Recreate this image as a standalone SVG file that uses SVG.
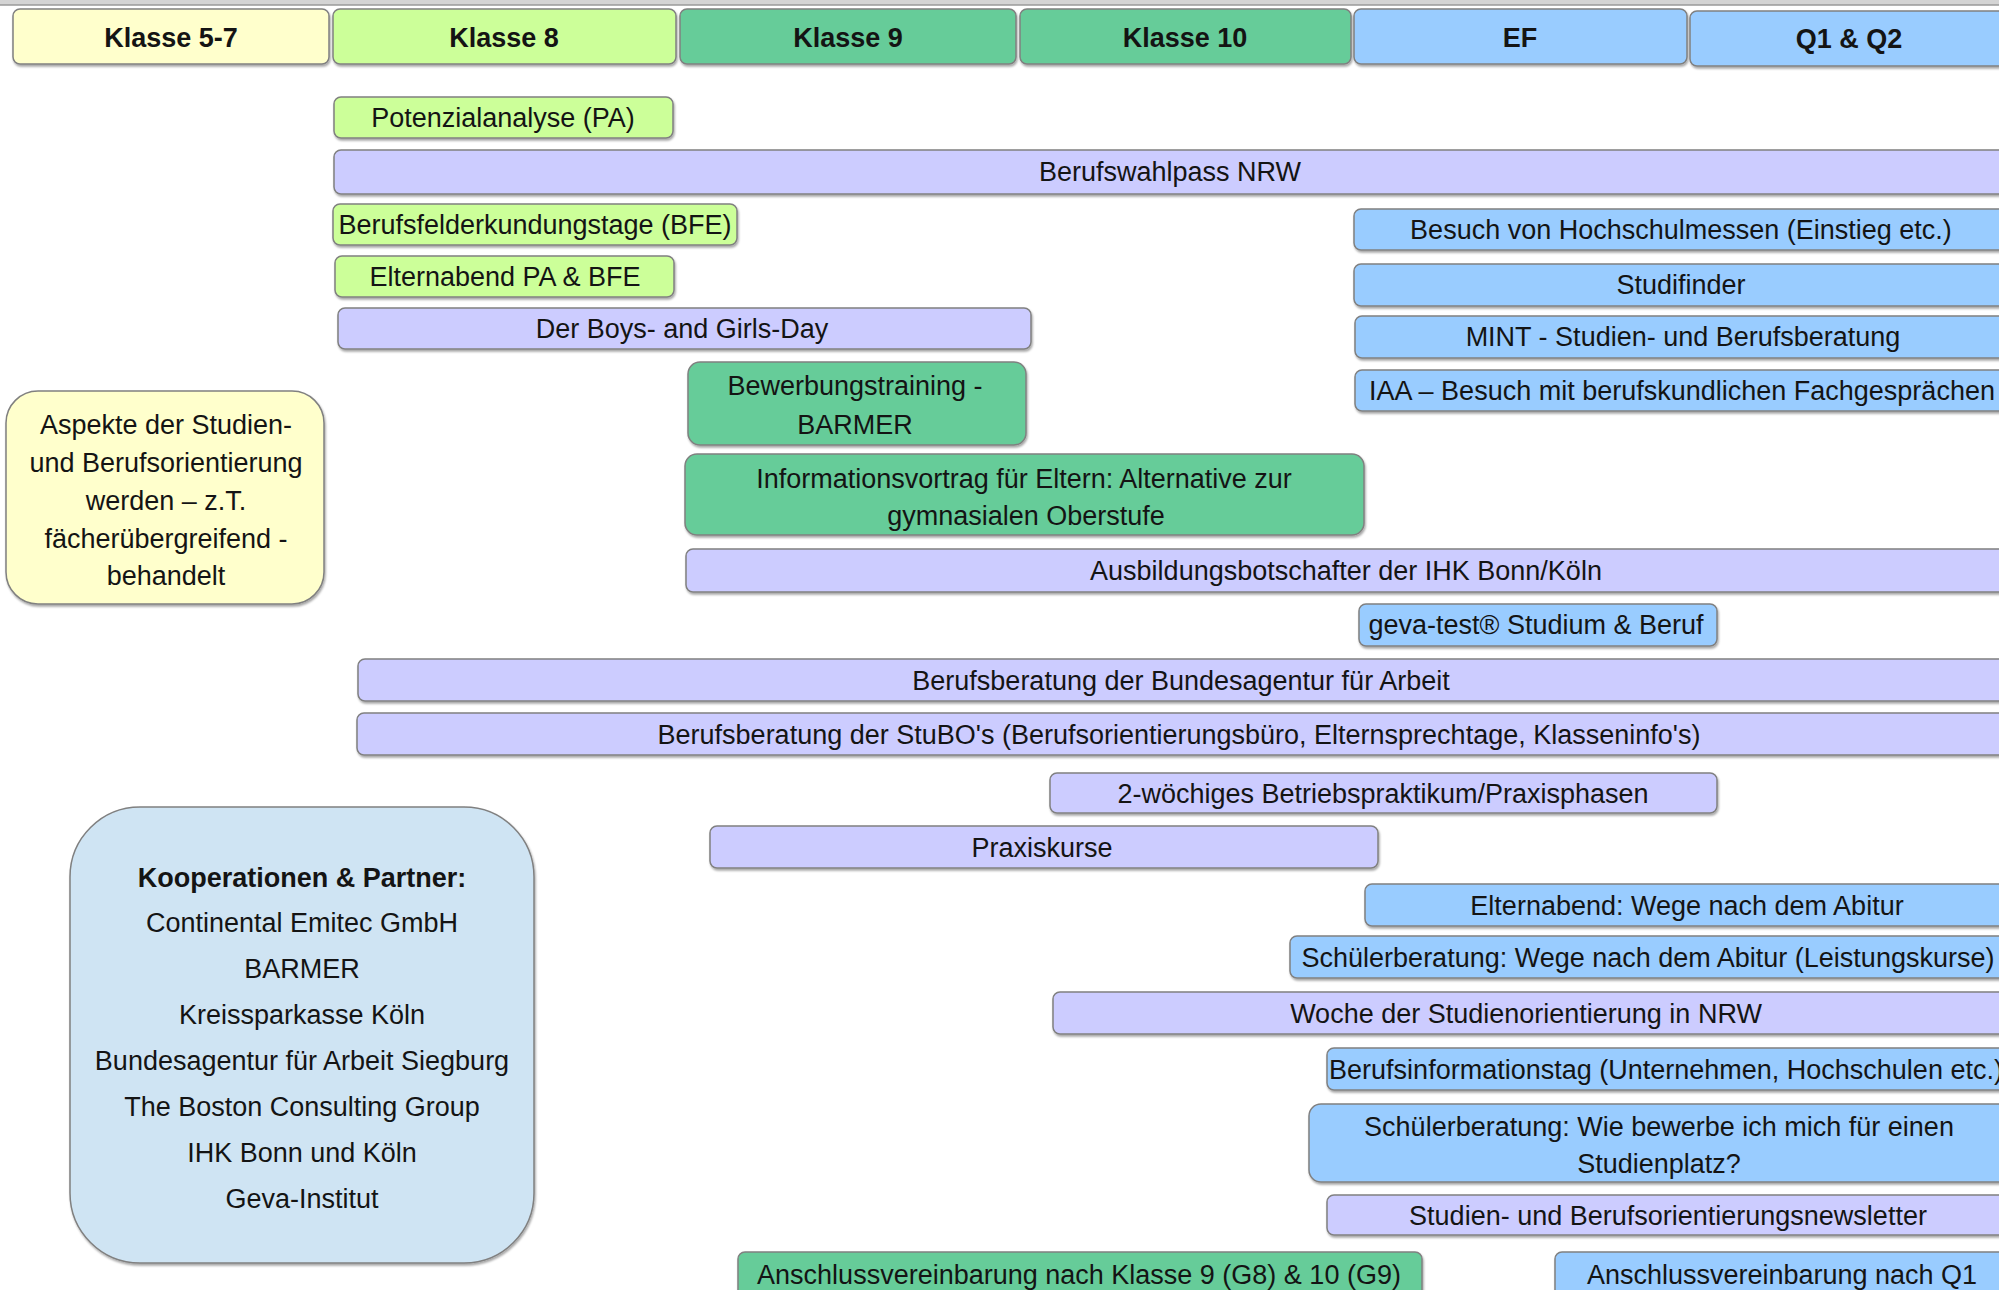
<svg xmlns="http://www.w3.org/2000/svg" width="1999" height="1290" viewBox="0 0 1999 1290">
<defs>
<filter id="sh" x="-5%" y="-20%" width="110%" height="150%">
<feDropShadow dx="1" dy="2" stdDeviation="1" flood-color="#000" flood-opacity="0.35"/>
</filter>
<style>
.b{stroke:#808080;stroke-width:1.5;filter:url(#sh)}
.y{fill:#FFFFCC}.lg{fill:#CCFF99}.g{fill:#66CC99}.bl{fill:#99CCFF}.v{fill:#CCCCFF}.p{fill:#CFE4F3}
text{font-family:"Liberation Sans",Arial,sans-serif;font-size:27px;fill:#141414;text-anchor:middle}
.h{font-weight:bold}
</style>
</defs>
<rect width="1999" height="1290" fill="#fff"/>
<rect x="-5" y="-10" width="2010" height="15" fill="#d4d4d4" stroke="#9a9a9a" stroke-width="1.5"/>

<g id="header">
<g id="h-k57"><rect class="b y" x="13" y="9" width="316" height="55" rx="7"/><text class="h" x="171" y="47">Klasse 5-7</text></g>
<g id="h-k8"><rect class="b lg" x="333" y="9" width="343" height="55" rx="7"/><text class="h" x="504" y="47">Klasse 8</text></g>
<g id="h-k9"><rect class="b g" x="680" y="9" width="336" height="55" rx="7"/><text class="h" x="848" y="47">Klasse 9</text></g>
<g id="h-k10"><rect class="b g" x="1020" y="9" width="331" height="55" rx="7"/><text class="h" x="1185" y="47">Klasse 10</text></g>
<g id="h-ef"><rect class="b bl" x="1354" y="9" width="333" height="55" rx="7"/><text class="h" x="1520" y="47">EF</text></g>
<g id="h-q"><rect class="b bl" x="1690" y="11" width="330" height="55" rx="7"/><text class="h" x="1849" y="48">Q1 &amp; Q2</text></g>
</g>

<g id="n-pa"><rect class="b lg" x="334" y="97" width="339" height="41" rx="7"/><text x="503" y="127">Potenzialanalyse (PA)</text></g>
<g id="n-bwp"><rect class="b v" x="334" y="150" width="1680" height="44" rx="7"/><text x="1170" y="181">Berufswahlpass NRW</text></g>
<g id="n-bfe"><rect class="b lg" x="333" y="204" width="404" height="41" rx="7"/><text x="535" y="234">Berufsfelderkundungstage (BFE)</text></g>
<g id="n-epa"><rect class="b lg" x="335" y="256" width="339" height="41" rx="7"/><text x="505" y="286">Elternabend PA &amp; BFE</text></g>
<g id="n-boys"><rect class="b v" x="338" y="308" width="693" height="41" rx="7"/><text x="682" y="338">Der Boys- and Girls-Day</text></g>
<g id="n-hsm"><rect class="b bl" x="1354" y="209" width="660" height="41" rx="7"/><text x="1681" y="239">Besuch von Hochschulmessen (Einstieg etc.)</text></g>
<g id="n-stf"><rect class="b bl" x="1354" y="264" width="660" height="42" rx="7"/><text x="1681" y="294">Studifinder</text></g>
<g id="n-mint"><rect class="b bl" x="1355" y="316" width="660" height="42" rx="7"/><text x="1683" y="346">MINT - Studien- und Berufsberatung</text></g>
<g id="n-iaa"><rect class="b bl" x="1355" y="370" width="660" height="41" rx="7"/><text x="1682" y="400">IAA – Besuch mit berufskundlichen Fachgesprächen</text></g>
<g id="n-bewt"><rect class="b g" x="688" y="362" width="338" height="83" rx="12"/><text x="855" y="395">Bewerbungstraining -</text><text x="855" y="434">BARMER</text></g>
<g id="n-info"><rect class="b g" x="685" y="454" width="679" height="81" rx="12"/><text x="1024" y="488">Informationsvortrag für Eltern: Alternative zur</text><text x="1026" y="525">gymnasialen Oberstufe</text></g>
<g id="n-ihk"><rect class="b v" x="686" y="549" width="1330" height="43" rx="7"/><text x="1346" y="580">Ausbildungsbotschafter der IHK Bonn/Köln</text></g>
<g id="n-geva"><rect class="b bl" x="1359" y="604" width="358" height="42" rx="7"/><text x="1536" y="634">geva-test® Studium &amp; Beruf</text></g>
<g id="n-ba"><rect class="b v" x="358" y="659" width="1660" height="42" rx="7"/><text x="1181" y="690">Berufsberatung der Bundesagentur für Arbeit</text></g>
<g id="n-stubo"><rect class="b v" x="357" y="713" width="1660" height="42" rx="7"/><text x="1179" y="744">Berufsberatung der StuBO's (Berufsorientierungsbüro, Elternsprechtage, Klasseninfo's)</text></g>
<g id="n-prak"><rect class="b v" x="1050" y="773" width="667" height="40" rx="7"/><text x="1383" y="803">2-wöchiges Betriebspraktikum/Praxisphasen</text></g>
<g id="n-pk"><rect class="b v" x="710" y="826" width="668" height="42" rx="7"/><text x="1042" y="857">Praxiskurse</text></g>
<g id="n-eabi"><rect class="b bl" x="1365" y="884" width="650" height="42" rx="7"/><text x="1687" y="915">Elternabend: Wege nach dem Abitur</text></g>
<g id="n-slk"><rect class="b bl" x="1290" y="936" width="725" height="42" rx="7"/><text x="1648" y="967">Schülerberatung: Wege nach dem Abitur (Leistungskurse)</text></g>
<g id="n-woche"><rect class="b v" x="1053" y="992" width="962" height="42" rx="7"/><text x="1526" y="1023">Woche der Studienorientierung in NRW</text></g>
<g id="n-bit"><rect class="b bl" x="1327" y="1048" width="690" height="42" rx="7"/><text x="1666" y="1079">Berufsinformationstag (Unternehmen, Hochschulen etc.)</text></g>
<g id="n-wie"><rect class="b bl" x="1309" y="1104" width="706" height="78" rx="12"/><text x="1659" y="1136">Schülerberatung: Wie bewerbe ich mich für einen</text><text x="1659" y="1173">Studienplatz?</text></g>
<g id="n-news"><rect class="b v" x="1327" y="1195" width="690" height="40" rx="7"/><text x="1668" y="1225">Studien- und Berufsorientierungsnewsletter</text></g>
<g id="n-av9"><rect class="b g" x="738" y="1252" width="684" height="50" rx="7"/><text x="1079" y="1284">Anschlussvereinbarung nach Klasse 9 (G8) &amp; 10 (G9)</text></g>
<g id="n-avq"><rect class="b bl" x="1555" y="1252" width="460" height="50" rx="7"/><text x="1782" y="1284">Anschlussvereinbarung nach Q1</text></g>

<g id="n-aspekte"><rect class="b y" x="6" y="391" width="318" height="213" rx="32"/>
<text x="166" y="434">Aspekte der Studien-</text><text x="166" y="472">und Berufsorientierung</text><text x="166" y="510">werden – z.T.</text><text x="166" y="548">fächerübergreifend -</text><text x="166" y="585">behandelt</text></g>

<g id="n-partner"><rect class="b p" x="70" y="807" width="464" height="456" rx="70"/>
<text class="h" x="302" y="887">Kooperationen &amp; Partner:</text>
<text x="302" y="932">Continental Emitec GmbH</text>
<text x="302" y="978">BARMER</text>
<text x="302" y="1024">Kreissparkasse Köln</text>
<text x="302" y="1070">Bundesagentur für Arbeit Siegburg</text>
<text x="302" y="1116">The Boston Consulting Group</text>
<text x="302" y="1162">IHK Bonn und Köln</text>
<text x="302" y="1208">Geva-Institut</text></g>
</svg>
